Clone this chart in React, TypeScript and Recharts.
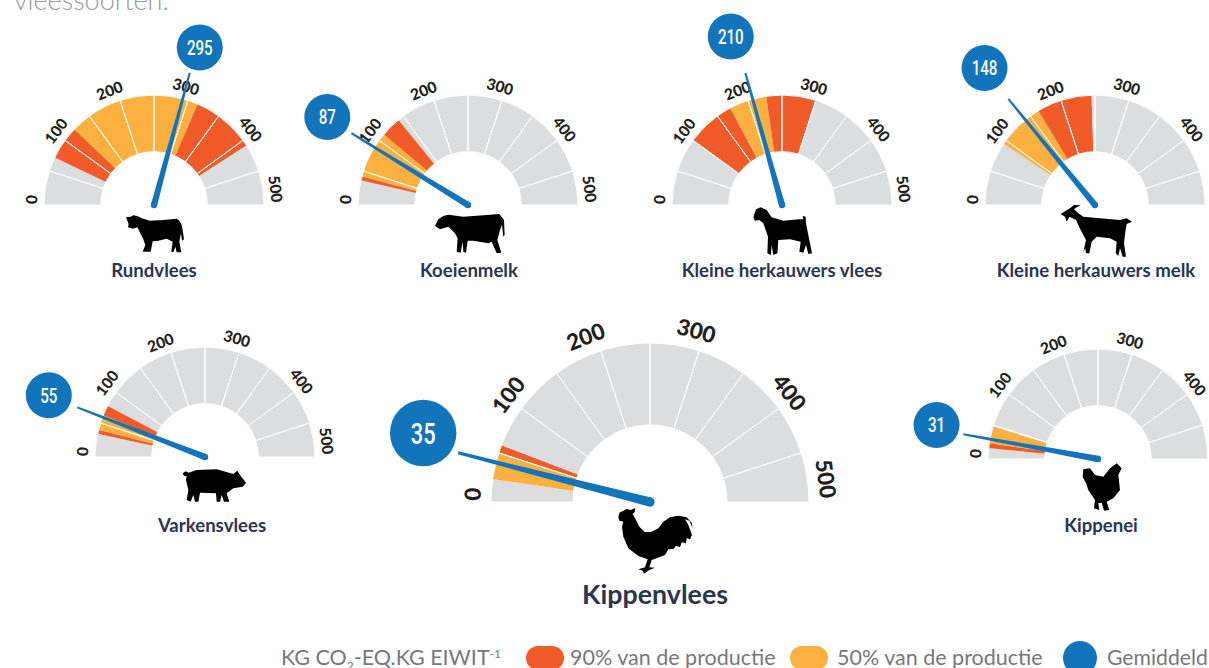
import { Pie, PieChart } from "recharts";

const GREY = "#dcddde";
const RED = "#f15a29";
const ORANGE = "#fbb040";
const BLUE = "#1275bc";
const INK = "#2b3550";

const gaugeNames = [
  "Rundvlees",
  "Koeienmelk",
  "Kleine herkauwers vlees",
  "Kleine herkauwers melk",
  "Varkensvlees",
  "Kippenvlees",
  "Kippenei",
];
const averages = [295, 87, 210, 148, 55, 35, 31];
// where the needle and the badge actually sit in the picture, on the 0-500 scale
const needleAt = [292, 88, 207, 141, 59, 40, 29];
const badgeAt = [295, 89, 203, 142, 60, 47, 33];
// low 90%, low 50%, high 50%, high 90%
const bandEdges = [
  [71, 121, 315, 409],
  [36, 42, 111, 141],
  [100, 172, 227, 299],
  [94, 94, 164, 245],
  [34, 40, 62, 77],
  [23, 23, 50, 58],
  [16, 23, 48, 48],
];
const tickLabels = ["0", "100", "200", "300", "400", "500"];
const tickAt = [7, 103, 191, 292, 394, 479];
const dividerSpans = [50, 50, 50, 50, 50, 50, 50, 50, 50, 50];

// chart layout: centre x, centre y, outer radius, badge distance
const layout = [
  { cx: 154, cy: 205, r: 110, reach: 164 },
  { cx: 468, cy: 205, r: 110, reach: 166 },
  { cx: 782, cy: 205, r: 110, reach: 176 },
  { cx: 1095, cy: 205, r: 110, reach: 176 },
  { cx: 205, cy: 457, r: 110, reach: 168 },
  { cx: 650, cy: 502, r: 159, reach: 164 },
  { cx: 1098, cy: 459, r: 110, reach: 165 },
];
const nameSpots = [
  { x: 154, y: 277, size: 18.6 },
  { x: 469, y: 277, size: 18.6 },
  { x: 782, y: 277, size: 18.6 },
  { x: 1096, y: 277, size: 18.6 },
  { x: 212, y: 532, size: 18.6 },
  { x: 655, y: 604, size: 26.8 },
  { x: 1101, y: 532, size: 18.6 },
];

// silhouettes traced by hand, in 3x zoomed coordinates
const animals = [
  { x: 0, y: 0, d: "M378 652 L392 650 L400 646 L412 648 L425 655 L450 662 L490 660 L530 656 Q546 665 548 690 L552 718 L546 722 L543 700 L538 725 L544 757 L530 757 L526 740 L520 757 L514 755 L518 725 L500 716 L475 722 L458 724 L452 755 L428 755 L436 735 L430 718 L420 698 L412 682 L398 686 L384 682 L386 672 Z" },
  { x: 300, y: 70, d: "M405 468 L415 448 L430 438 L445 434 L490 440 L560 435 L598 432 L612 450 L614 495 L610 500 L606 465 L600 480 L592 510 L604 548 L590 550 L575 515 L565 520 L520 512 L503 512 L498 548 L490 545 L488 515 L482 548 L470 545 L473 505 L465 490 L445 470 L420 478 Z" },
  { x: 640, y: 10, d: "M340 622 L348 598 L362 592 L380 600 L395 622 L430 632 L478 628 L490 628 L488 618 L497 620 L498 640 L506 680 L516 730 L505 732 L498 705 L490 728 L478 725 L482 695 L450 688 L415 690 L412 730 L400 735 L395 705 L393 735 L382 730 L384 680 L370 640 L358 630 L345 632 Z" },
  { x: 950, y: 40, d: "M332 522 L360 505 L372 495 L392 496 L380 502 L372 508 L385 520 L400 530 L450 535 L510 540 L530 535 L546 545 L530 552 L526 575 L522 610 L528 650 L518 650 L510 625 L505 648 L497 640 L500 605 L480 595 L440 590 L425 605 L418 640 L408 640 L406 625 L400 635 L408 600 L392 570 L378 540 L358 530 L350 545 L345 530 Z" },
  { x: 0, y: 320, d: "M548 462 Q555 450 565 458 L590 450 L650 448 L700 462 L712 452 L720 465 L738 488 L728 500 L700 505 L680 520 L688 545 L672 545 L665 525 L660 545 L650 545 L648 520 L600 518 L595 545 L585 545 L580 525 L572 545 L560 540 L565 510 L558 480 L560 468 Q552 470 548 462 Z" },
  { x: 380, y: 310, d: "M715 622 L718 608 L730 602 L740 597 L752 600 L766 594 L764 606 L758 612 L768 630 L778 650 L795 667 L815 665 L835 655 L850 635 L870 622 L895 617 L920 622 L935 638 L938 655 L928 632 L915 628 L925 645 L936 675 L930 688 L920 685 L918 700 L905 697 L900 712 L888 707 L880 717 L865 718 L855 735 L830 745 L815 750 L808 772 L825 773 L808 780 L792 791 L788 782 L775 778 L795 772 L803 748 L775 738 L745 715 L730 680 L726 650 L730 635 L718 632 Z" },
  { x: 900, y: 320, d: "M548 470 L550 448 L570 445 L585 465 L610 470 L630 445 L650 430 L665 445 L655 465 L660 510 L640 535 L620 545 L628 570 L612 572 L605 548 L595 550 L598 570 L582 565 L585 540 L565 510 L558 490 Z" },
];

const bandSlices = (edges: number[]) => {
  const stops = [0, ...edges, 500];
  const fills = [GREY, RED, ORANGE, RED, GREY];
  return fills
    .map((fill, i) => ({ value: stops[i + 1] - stops[i], fill }))
    .filter((s) => s.value > 0);
};

const toXY = (cx: number, cy: number, r: number, deg: number) => ({
  x: cx + r * Math.cos((deg * Math.PI) / 180),
  y: cy - r * Math.sin((deg * Math.PI) / 180),
});

function renderTick(p: any, scale: number) {
  if (p.index >= tickLabels.length) return <g key={p.index} />;
  const pos = toXY(p.cx, p.cy, 123 * scale, p.endAngle);
  return (
    <text
      key={p.index}
      x={pos.x}
      y={pos.y}
      textAnchor="middle"
      dominantBaseline="central"
      transform={`rotate(${90 - p.endAngle} ${pos.x} ${pos.y})`}
      fontFamily="Lato"
      fontWeight={900}
      fontSize={15.5 * scale}
      fill="#231f20"
    >
      {tickLabels[p.index]}
    </text>
  );
}

function renderNeedle(p: any, scale: number) {
  if (p.index !== 0) return <g key={p.index} />;
  const a = (p.endAngle * Math.PI) / 180;
  const tip = toXY(p.cx, p.cy, 137 * scale, p.endAngle);
  const nx = Math.sin(a);
  const ny = Math.cos(a);
  const w0 = 3.2 * scale;
  const w1 = 1 * scale;
  const d = `M${tip.x + nx * w1} ${tip.y + ny * w1} L${tip.x - nx * w1} ${tip.y - ny * w1} L${p.cx - nx * w0} ${p.cy - ny * w0} L${p.cx + nx * w0} ${p.cy + ny * w0} Z`;
  return (
    <g key={p.index}>
      <path d={d} fill={BLUE} />
      <circle cx={p.cx} cy={p.cy} r={w0} fill={BLUE} />
    </g>
  );
}

function renderBadge(p: any, scale: number, label: number, reach: number) {
  if (p.index !== 0) return <g key={p.index} />;
  const pos = toXY(p.cx, p.cy, reach * scale, p.endAngle);
  return (
    <g key={p.index}>
      <circle cx={pos.x} cy={pos.y} r={23 * scale} fill={BLUE} />
      {/* no condensed face installed, so squeeze Roboto */}
      <text
        transform={`translate(${pos.x} ${pos.y}) scale(0.72 1)`}
        textAnchor="middle"
        dominantBaseline="central"
        fontFamily="Roboto"
        fontWeight={500}
        fontSize={21 * scale}
        fill="#fff"
      >
        {label}
      </text>
    </g>
  );
}

function Gauge({ index }: { index: number }) {
  const { cx, cy, r, reach } = layout[index];
  const scale = r / 110;
  const common = {
    cx,
    cy,
    startAngle: 180,
    endAngle: 0,
    dataKey: "value",
    isAnimationActive: false,
    labelLine: false,
    stroke: "none",
    fill: "none",
  };
  const ticks = [
    ...tickAt.map((t, i) => ({ value: t - (i ? tickAt[i - 1] : 0) })),
    { value: 500 - tickAt[tickAt.length - 1] },
  ];
  return (
    <>
      <Pie
        {...common}
        data={bandSlices(bandEdges[index])}
        innerRadius={r * 0.485}
        outerRadius={r}
      />
      <Pie
        {...common}
        data={dividerSpans.map((value) => ({ value }))}
        innerRadius={r * 0.485}
        outerRadius={r}
        stroke="#fff"
        strokeWidth={1}
      />
      <Pie
        {...common}
        data={ticks}
        innerRadius={r}
        outerRadius={r}
        label={(p: any) => renderTick(p, scale)}
      />
      <Pie
        {...common}
        data={[{ value: needleAt[index] }, { value: 500 - needleAt[index] }]}
        innerRadius={r}
        outerRadius={r}
        label={(p: any) => renderNeedle(p, scale)}
      />
      <Pie
        {...common}
        data={[{ value: badgeAt[index] }, { value: 500 - badgeAt[index] }]}
        innerRadius={r}
        outerRadius={r}
        label={(p: any) => renderBadge(p, scale, averages[index], reach)}
      />
    </>
  );
}

export default function App() {
  return (
    <div
      style={{
        position: "absolute",
        left: 0,
        top: 0,
        width: 1209,
        height: 668,
        overflow: "hidden",
        background: "#fff",
      }}
    >
      <div style={{ position: "absolute", left: 0, top: 0 }}>
        <PieChart width={1209} height={668} margin={{ top: 0, right: 0, bottom: 0, left: 0 }}>
          {gaugeNames.map((n, i) => (
            <Gauge key={n} index={i} />
          ))}
        </PieChart>
      </div>
      <svg
        width={1209}
        height={668}
        style={{ position: "absolute", left: 0, top: 0, pointerEvents: "none" }}
      >
        <text x={14} y={10} fontFamily="Lato" fontWeight={300} fontSize={27} fill="#9a9a9a">
          vleessoorten.
        </text>
        {animals.map((a, i) => (
          <path
            key={i}
            d={a.d}
            transform={`translate(${a.x} ${a.y}) scale(${1 / 3})`}
            fill="#000"
          />
        ))}
        {gaugeNames.map((n, i) => (
          <text
            key={n}
            x={nameSpots[i].x}
            y={nameSpots[i].y}
            textAnchor="middle"
            fontFamily="Lato"
            fontWeight={700}
            fontSize={nameSpots[i].size}
            fill={INK}
          >
            {n}
          </text>
        ))}
        <g fontFamily="Lato" fontSize={21.5} fill="#77787b">
          <text x={281} y={665}>
            KG CO<tspan fontSize={12} dy={5}>2</tspan>
            <tspan dy={-5}>-EQ.KG EIWIT</tspan>
            <tspan fontSize={12} dy={-7}>-1</tspan>
          </text>
          <text x={570} y={665}>90% van de productie</text>
          <text x={837} y={665}>50% van de productie</text>
          <text x={1107} y={665} fontSize={21.2}>Gemiddeld</text>
        </g>
        <rect x={526} y={646} width={38} height={24} rx={12} fill={RED} />
        <rect x={790} y={646} width={38} height={24} rx={12} fill={ORANGE} />
        <circle cx={1080} cy={658} r={17} fill={BLUE} />
      </svg>
    </div>
  );
}
